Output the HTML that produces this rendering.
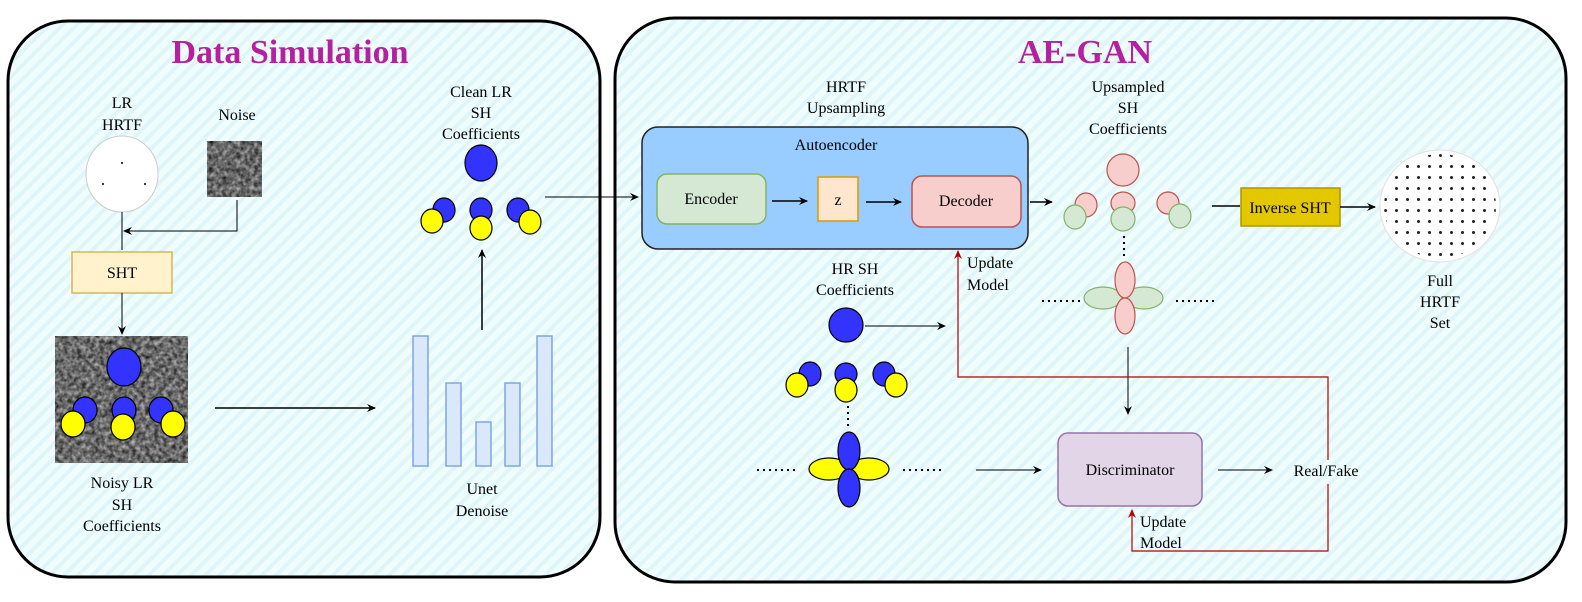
<!DOCTYPE html>
<html><head><meta charset="utf-8"><style>
html,body{margin:0;padding:0;background:#fff;}
svg{display:block;}
svg text{font-family:"Liberation Serif",serif;}
</style></head><body>
<svg width="1582" height="602" viewBox="0 0 1582 602" xmlns="http://www.w3.org/2000/svg" font-family="Liberation Serif, serif">
<defs>
<pattern id="st" width="10" height="10" patternUnits="userSpaceOnUse" patternTransform="rotate(45)">
<rect width="10" height="10" fill="#f0fdfd"/><rect width="4" height="10" fill="#dff5f8"/>
</pattern>
<pattern id="dots" width="11" height="11" patternUnits="userSpaceOnUse" x="1380" y="150">
<circle cx="5.5" cy="5.5" r="1.5" fill="#222"/>
</pattern>
<filter id="noise" x="0" y="0" width="100%" height="100%">
<feTurbulence type="fractalNoise" baseFrequency="0.22" numOctaves="2" seed="3"/>
<feColorMatrix type="matrix" values="0 0 0 0 0  0 0 0 0 0  0 0 0 0 0  0 0 0 -1.2 1.0"/>
</filter>
<marker id="a" markerWidth="10" markerHeight="10" refX="8" refY="5" orient="auto" markerUnits="userSpaceOnUse"><path d="M0,1 L9,5 L0,9 L3,5z" fill="#000"/></marker>
<marker id="r" markerWidth="10" markerHeight="10" refX="8" refY="5" orient="auto" markerUnits="userSpaceOnUse"><path d="M0,1 L9,5 L0,9 L3,5z" fill="#b20000"/></marker>
<clipPath id="sph"><ellipse cx="1440" cy="206" rx="56" ry="52"/></clipPath>
</defs>

<rect x="8" y="21" width="592" height="556" rx="60" fill="url(#st)" stroke="#000" stroke-width="3"/>
<rect x="615" y="18" width="951" height="564" rx="60" fill="url(#st)" stroke="#000" stroke-width="3"/>

<text x="290" y="63" text-anchor="middle" font-size="34" font-weight="bold" fill="#b5209f" font-family="Liberation Serif, serif">Data Simulation</text>
<text x="1085" y="63" text-anchor="middle" font-size="34" font-weight="bold" fill="#b5209f" font-family="Liberation Serif, serif">AE-GAN</text>

<g font-size="16" text-anchor="middle" fill="#000" font-family="Liberation Serif, serif">
<text x="122" y="108">LR</text><text x="122" y="130">HRTF</text>
<text x="237" y="120">Noise</text>
<ellipse cx="122" cy="174" rx="36" ry="38" fill="#fff" stroke="#ccc"/>
<circle cx="122" cy="163" r="1" fill="#000"/><circle cx="103" cy="184" r="1" fill="#000"/><circle cx="145" cy="184" r="1" fill="#000"/>
<rect x="207" y="141" width="55" height="56" fill="#aaa"/>
<rect x="207" y="141" width="55" height="56" fill="#fff" filter="url(#noise)"/>
<path d="M122,212 V250" stroke="#000" fill="none"/>
<path d="M237,200 V231 H124" stroke="#000" fill="none" marker-end="url(#a)"/>
<rect x="72" y="252" width="100" height="41" fill="#fff2cc" stroke="#d6b656" stroke-width="1.5"/>
<text x="122" y="278">SHT</text>
<path d="M122,293 V334" stroke="#000" fill="none" marker-end="url(#a)"/>
<rect x="55" y="336" width="133" height="127" fill="#b0b0b0"/>
<rect x="55" y="336" width="133" height="127" fill="#fff" filter="url(#noise)"/>
<g stroke="#000" stroke-width="1.2">
<ellipse cx="124" cy="367" rx="17" ry="19" fill="#3333ff"/>
<ellipse cx="85" cy="410" rx="12" ry="13" fill="#3333ff"/><ellipse cx="73" cy="424" rx="12" ry="13" fill="#ffff00"/>
<ellipse cx="124" cy="410" rx="12" ry="13" fill="#3333ff"/><ellipse cx="123" cy="427" rx="12" ry="13" fill="#ffff00"/>
<ellipse cx="161" cy="410" rx="12" ry="13" fill="#3333ff"/><ellipse cx="173" cy="424" rx="12" ry="13" fill="#ffff00"/>
</g>
<text x="122" y="488">Noisy LR</text><text x="122" y="510">SH</text><text x="122" y="531">Coefficients</text>
<path d="M215,408 H375" stroke="#000" stroke-width="1.5" fill="none" marker-end="url(#a)"/>
<g fill="#dae8fc" stroke="#7ea6e0" stroke-width="1.5">
<rect x="413" y="336" width="15" height="130"/>
<rect x="446" y="383" width="15" height="83"/>
<rect x="476" y="422" width="15" height="44"/>
<rect x="505" y="383" width="15" height="83"/>
<rect x="537" y="336" width="15" height="130"/>
</g>
<text x="482" y="494">Unet</text><text x="482" y="516">Denoise</text>
<path d="M482,330 V250" stroke="#000" stroke-width="1.5" fill="none" marker-end="url(#a)"/>
<text x="481" y="97">Clean LR</text><text x="481" y="118">SH</text><text x="481" y="139">Coefficients</text>
<g stroke="#000" stroke-width="1.2">
<ellipse cx="481" cy="163" rx="16" ry="18" fill="#3333ff"/>
<ellipse cx="444" cy="210" rx="11" ry="12" fill="#3333ff"/><ellipse cx="432" cy="221" rx="11" ry="12" fill="#ffff00"/>
<ellipse cx="481" cy="210" rx="11" ry="12" fill="#3333ff"/><ellipse cx="481" cy="228" rx="11" ry="12" fill="#ffff00"/>
<ellipse cx="518" cy="210" rx="11" ry="12" fill="#3333ff"/><ellipse cx="530" cy="222" rx="11" ry="12" fill="#ffff00"/>
</g>
<path d="M545,197 H638" stroke="#000" fill="none" marker-end="url(#a)"/>

<text x="846" y="92">HRTF</text><text x="846" y="113">Upsampling</text>
<rect x="642" y="127" width="386" height="122" rx="16" fill="#99ccff" stroke="#222" stroke-width="1.5"/>
<text x="836" y="150">Autoencoder</text>
<rect x="657" y="174" width="109" height="50" rx="10" fill="#d5e8d4" stroke="#82b366" stroke-width="1.5"/>
<text x="711" y="204">Encoder</text>
<rect x="818" y="177" width="40" height="44" fill="#ffe6cc" stroke="#d79b00" stroke-width="1.5"/>
<text x="838" y="205">z</text>
<rect x="912" y="176" width="109" height="51" rx="10" fill="#f8cecc" stroke="#b85450" stroke-width="1.5"/>
<text x="966" y="206">Decoder</text>
<path d="M772,201 H807" stroke="#000" stroke-width="1.5" fill="none" marker-end="url(#a)"/>
<path d="M866,202 H901" stroke="#000" stroke-width="1.5" fill="none" marker-end="url(#a)"/>
<path d="M1030,202 H1052" stroke="#000" stroke-width="1.5" fill="none" marker-end="url(#a)"/>

<text x="1128" y="92">Upsampled</text><text x="1128" y="113">SH</text><text x="1128" y="134">Coefficients</text>
<g stroke-width="1.2">
<ellipse cx="1123" cy="170" rx="16" ry="16" fill="#f8cecc" stroke="#b85450"/>
<ellipse cx="1086" cy="205" rx="11" ry="12" fill="#f8cecc" stroke="#b85450"/><ellipse cx="1075" cy="217" rx="11" ry="12" fill="#d5e8d4" stroke="#82b366"/>
<ellipse cx="1123" cy="203" rx="12" ry="11" fill="#f8cecc" stroke="#b85450"/><ellipse cx="1123" cy="219" rx="12" ry="12" fill="#d5e8d4" stroke="#82b366"/>
<ellipse cx="1168" cy="203" rx="11" ry="11" fill="#f8cecc" stroke="#b85450"/><ellipse cx="1180" cy="216" rx="11" ry="12" fill="#d5e8d4" stroke="#82b366"/>
</g>
<path d="M1124,236 V256" stroke="#000" stroke-width="2" stroke-dasharray="2,4" fill="none"/>
<g stroke-width="1.2">
<ellipse cx="1103" cy="298" rx="19" ry="11" fill="#d5e8d4" stroke="#82b366"/>
<ellipse cx="1144" cy="298" rx="19" ry="11" fill="#d5e8d4" stroke="#82b366"/>
<ellipse cx="1125" cy="280" rx="10" ry="18" fill="#f8cecc" stroke="#b85450"/>
<ellipse cx="1125" cy="316" rx="10" ry="18" fill="#f8cecc" stroke="#b85450"/>
</g>
<path d="M1042,301 H1080 M1176,301 H1214" stroke="#000" stroke-width="2" stroke-dasharray="2,4" fill="none"/>
<path d="M1212,206 H1240" stroke="#000" stroke-width="1.5" fill="none"/>
<rect x="1241" y="188" width="99" height="38" fill="#e3c800" stroke="#b09500" stroke-width="1.5"/>
<text x="1290" y="213">Inverse SHT</text>
<path d="M1340,207 H1375" stroke="#000" stroke-width="1.5" fill="none" marker-end="url(#a)"/>
<ellipse cx="1440" cy="206" rx="60" ry="56" fill="#fff" stroke="#e0e0e0"/>
<rect x="1380" y="150" width="120" height="112" fill="url(#dots)" clip-path="url(#sph)"/>
<text x="1440" y="286">Full</text><text x="1440" y="307">HRTF</text><text x="1440" y="328">Set</text>

<text x="855" y="274">HR SH</text><text x="855" y="295">Coefficients</text>
<g stroke="#000" stroke-width="1.2">
<ellipse cx="846" cy="325" rx="17" ry="17" fill="#3333ff"/>
<ellipse cx="810" cy="374" rx="11" ry="12" fill="#3333ff"/><ellipse cx="797" cy="385" rx="11" ry="12" fill="#ffff00"/>
<ellipse cx="846" cy="374" rx="11" ry="11" fill="#3333ff"/><ellipse cx="846" cy="390" rx="11" ry="12" fill="#ffff00"/>
<ellipse cx="884" cy="374" rx="11" ry="12" fill="#3333ff"/><ellipse cx="896" cy="385" rx="11" ry="12" fill="#ffff00"/>
</g>
<path d="M848,406 V430" stroke="#000" stroke-width="2" stroke-dasharray="2,4" fill="none"/>
<g stroke="#000" stroke-width="1.2">
<ellipse cx="829" cy="469" rx="20" ry="11" fill="#ffff00"/>
<ellipse cx="869" cy="469" rx="20" ry="11" fill="#ffff00"/>
<ellipse cx="849" cy="451" rx="11" ry="19" fill="#3333ff"/>
<ellipse cx="849" cy="488" rx="11" ry="19" fill="#3333ff"/>
</g>
<path d="M757,470 H797 M903,470 H943" stroke="#000" stroke-width="2" stroke-dasharray="2,4" fill="none"/>
<path d="M865,326 H945" stroke="#000" fill="none" marker-end="url(#a)"/>
<path d="M976,470 H1041" stroke="#000" fill="none" marker-end="url(#a)"/>
<path d="M1128,347 V414" stroke="#000" fill="none" marker-end="url(#a)"/>
<rect x="1058" y="433" width="144" height="73" rx="10" fill="#e1d5e7" stroke="#9673a6" stroke-width="1.5"/>
<text x="1130" y="475">Discriminator</text>
<path d="M1218,470 H1272" stroke="#000" fill="none" marker-end="url(#a)"/>
<text x="1326" y="476">Real/Fake</text>
<path d="M1328,460 V377 H958 V251" stroke="#b20000" stroke-width="1.2" fill="none" marker-end="url(#r)"/>
<path d="M1328,484 V551 H1132 V510" stroke="#b20000" stroke-width="1.2" fill="none" marker-end="url(#r)"/>
<g text-anchor="start">
<text x="967" y="268">Update</text><text x="967" y="290">Model</text>
<text x="1140" y="527">Update</text><text x="1140" y="548">Model</text>
</g>
</g>
</svg>
</body></html>
